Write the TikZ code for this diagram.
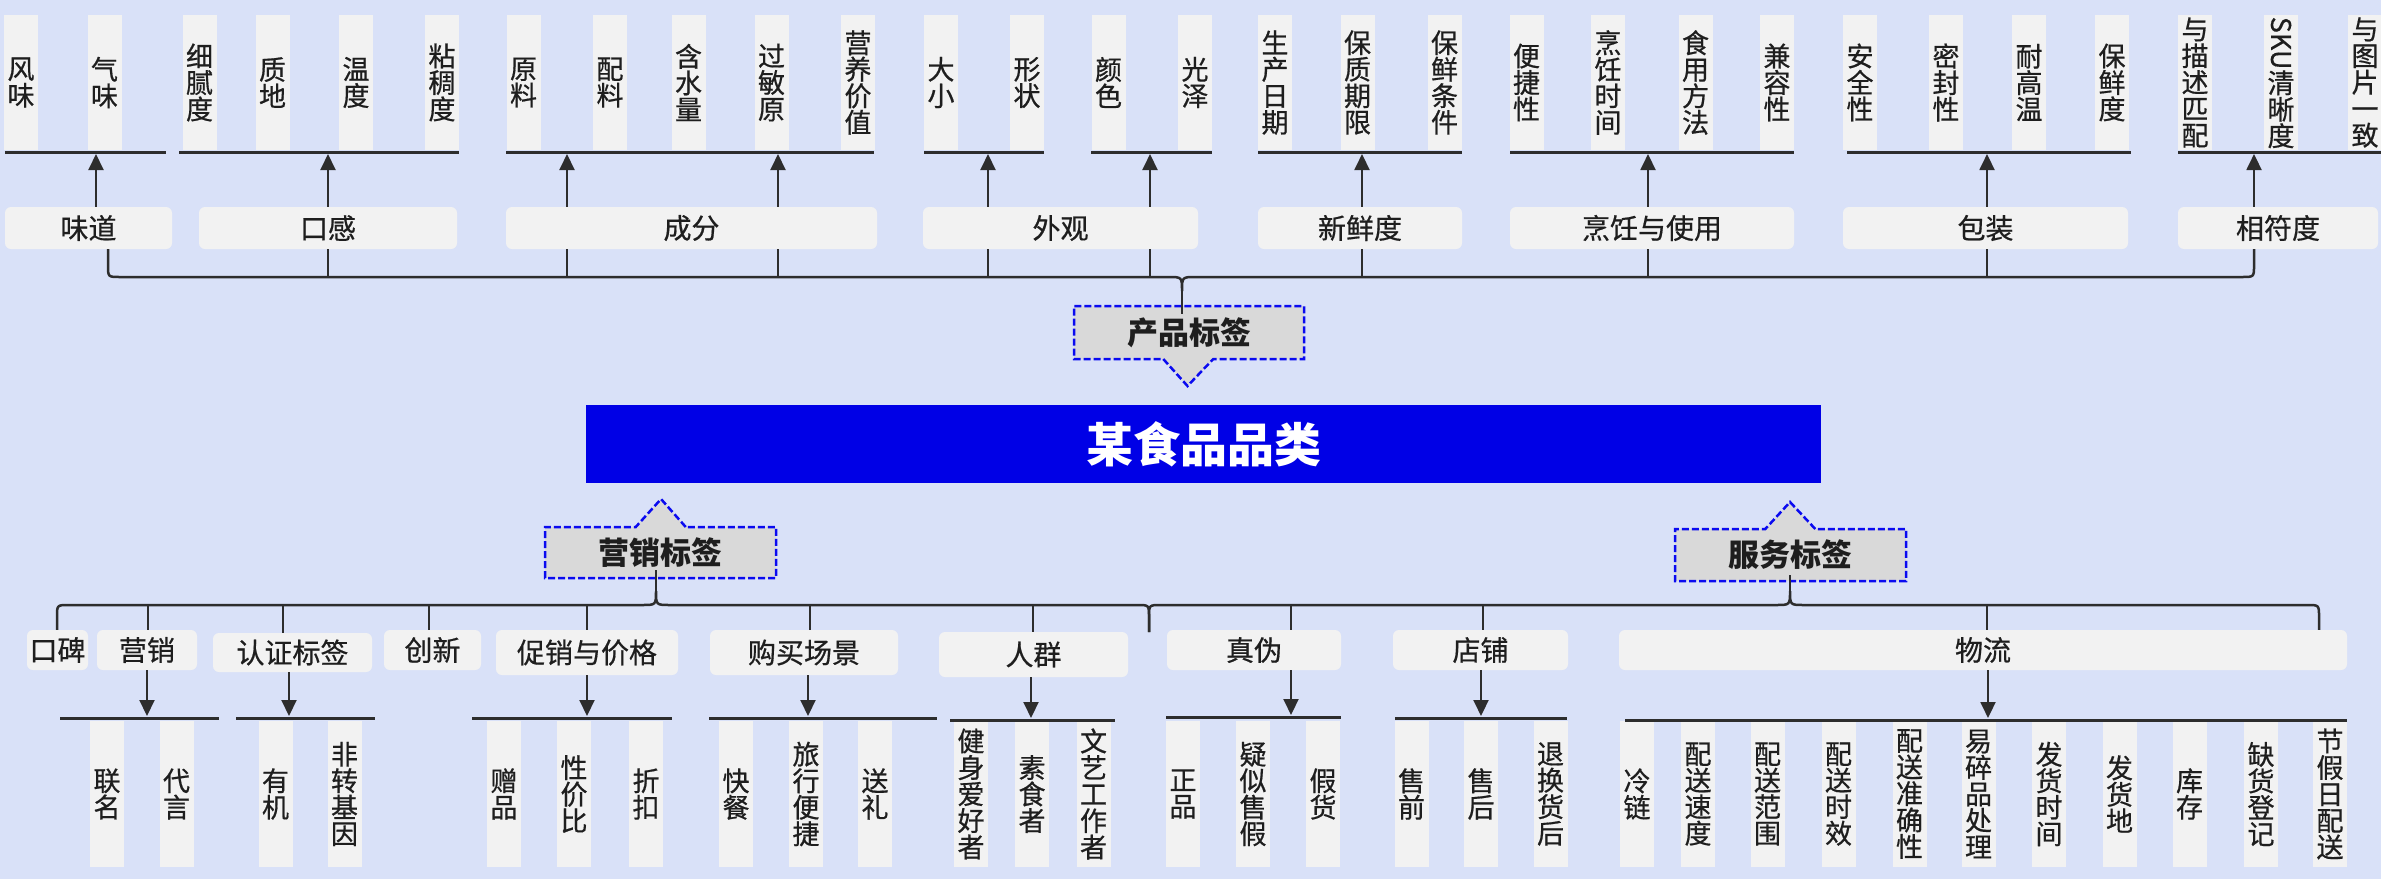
\documentclass[tikz,border=0pt]{standalone}
\usepackage{fontspec}
\setmainfont{Noto Sans CJK SC}
\newfontfamily\medfont{Noto Sans CJK SC}[FakeBold=0.6]
\usepackage{graphicx}
\usetikzlibrary{arrows.meta,shapes.callouts}
\definecolor{bg}{RGB}{217,225,248}
\definecolor{boxg}{RGB}{242,242,242}
\definecolor{calg}{RGB}{217,217,217}
\definecolor{tblue}{RGB}{0,0,230}
\definecolor{dblue}{RGB}{10,10,240}
\definecolor{ln}{RGB}{45,45,45}
\definecolor{txt}{RGB}{30,30,30}
\begin{document}
\begin{tikzpicture}[x=1pt,y=-1pt,
 leaf/.style={fill=boxg, inner sep=0pt, align=center, text=txt, font=\medfont\fontsize{27}{26.5}\selectfont, minimum width=34pt},
 tleaf/.style={leaf, minimum height=135pt},
 bleaf/.style={leaf, minimum height=146pt},
 cat/.style={fill=boxg, rounded corners=6pt, inner sep=0pt, text=txt, font=\medfont\fontsize{28}{30}\selectfont},
 hl/.style={draw=ln, line width=3pt},
 br/.style={draw=ln, line width=2.5pt},
 arr/.style={draw=ln, line width=2pt, -{Triangle[length=16pt,width=15pt]}},
 tag/.style={rectangle callout, fill=calg, draw=dblue, line width=2.5pt, dash pattern=on 7pt off 3pt, font=\fontsize{31}{32}\selectfont\bfseries, text=txt, inner sep=0pt, callout pointer width=50pt}
]
\useasboundingbox (0,0) rectangle (2381,879);
\fill[bg] (0,0) rectangle (2381,879);

% ---------- top leaves ----------
\foreach \n/\x/\t in {a1/21/风\\味, a2/104.5/气\\味, a3/199.5/细\\腻\\度, a4/272.5/质\\地, a5/356/温\\度, a6/442/粘\\稠\\度, a7/523.5/原\\料, a8/610/配\\料, a9/688.5/含\\水\\量, a10/771.5/过\\敏\\原, a11/858/营\\养\\价\\值, a12/941/大\\小, a13/1027/形\\状, a14/1108.5/颜\\色, a15/1195/光\\泽, a16/1275/生\\产\\日\\期, a17/1357.5/保\\质\\期\\限, a18/1444.5/保\\鲜\\条\\件, a19/1526.5/便\\捷\\性, a20/1608/烹\\饪\\时\\间, a21/1695.5/食\\用\\方\\法, a22/1777/兼\\容\\性, a23/1860/安\\全\\性, a24/1946/密\\封\\性, a25/2029/耐\\高\\温, a26/2112/保\\鲜\\度, a27/2195/与\\描\\述\\匹\\配, a29/2365/与\\图\\片\\一\\致}
  \node[tleaf] (\n) at (\x,82.5) {\t};
\node[tleaf] (a28) at (2281,82.5) {\rotatebox[origin=c]{-90}{SKU}\\清\\晰\\度};

% top leaf lines
\draw[hl] (5,152) -- (166,152);
\draw[hl] (179,152) -- (459,152);
\draw[hl] (506,152) -- (874,152);
\draw[hl] (924,152) -- (1044,152);
\draw[hl] (1091,152) -- (1212,152);
\draw[hl] (1258,152) -- (1462,152);
\draw[hl] (1510,152) -- (1794,152);
\draw[hl] (1847,152) -- (2131,152);
\draw[hl] (2178,152) -- (2381,152);

% ---------- top categories ----------
\node[cat, minimum width=167pt, minimum height=42pt] (wd) at (88.5,228) {味道};
\node[cat, minimum width=258pt, minimum height=42pt] (kg) at (328,228) {口感};
\node[cat, minimum width=371pt, minimum height=42pt] (cf) at (691.5,228) {成分};
\node[cat, minimum width=275pt, minimum height=42pt] (wg) at (1060.5,228) {外观};
\node[cat, minimum width=204pt, minimum height=42pt] (xx) at (1360,228) {新鲜度};
\node[cat, minimum width=284pt, minimum height=42pt] (pr) at (1652,228) {烹饪与使用};
\node[cat, minimum width=285pt, minimum height=42pt] (bz) at (1985.5,228) {包装};
\node[cat, minimum width=200pt, minimum height=42pt] (xf) at (2278,228) {相符度};

% top arrows
\draw[arr] (wd.north -| 96,0) -- (96,154);
\draw[arr] (kg.north -| 328,0) -- (328,154);
\draw[arr] (cf.north -| 567,0) -- (567,154);
\draw[arr] (cf.north -| 778,0) -- (778,154);
\draw[arr] (wg.north -| 988,0) -- (988,154);
\draw[arr] (wg.north -| 1150,0) -- (1150,154);
\draw[arr] (xx.north -| 1362,0) -- (1362,154);
\draw[arr] (pr.north -| 1648,0) -- (1648,154);
\draw[arr] (bz.north -| 1987,0) -- (1987,154);
\draw[arr] (xf.north -| 2254,0) -- (2254,154);

% top ticks
\draw[br] (kg.south -| 328,0) -- (328,277);
\draw[br] (cf.south -| 567,0) -- (567,277);
\draw[br] (cf.south -| 778,0) -- (778,277);
\draw[br] (wg.south -| 988,0) -- (988,277);
\draw[br] (wg.south -| 1150,0) -- (1150,277);
\draw[br] (xx.south -| 1362,0) -- (1362,277);
\draw[br] (pr.south -| 1648,0) -- (1648,277);
\draw[br] (bz.south -| 1987,0) -- (1987,277);

% ---------- title and tags ----------
\node[fill=tblue, minimum width=1235pt, minimum height=78pt, inner sep=0pt, text=white, font=\fontsize{47}{49}\selectfont\bfseries] (title) at (1203.5,444) {某食品品类};

\node[tag, minimum width=230pt, minimum height=53pt, callout absolute pointer={(1187.5,386)}] (pt) at (1189,332.5) {产品标签};
\node[tag, minimum width=231pt, minimum height=51pt, callout absolute pointer={(661,499)}] (yx) at (660.5,552.5) {营销标签};
\node[tag, minimum width=231pt, minimum height=52pt, callout absolute pointer={(1790,502)}] (fw) at (1790.5,555) {服务标签};

% top bracket
\draw[br] (wd.south -| 108,0) -- (108,265) .. controls (108,277) .. (120,277) -- (1168,277) .. controls (1182,277) .. (1182,291) .. controls (1182,277) .. (1196,277) -- (2242,277) .. controls (2254,277) .. (2254,265) -- (xf.south -| 2254,0);
\draw[br] (1182,291) -- (1182,314);

% ---------- bottom categories ----------
\node[cat, minimum width=61pt, minimum height=40pt] (kb) at (57.5,650) {口碑};
\node[cat, minimum width=100pt, minimum height=40pt] (mk) at (147,650) {营销};
\node[cat, minimum width=159pt, minimum height=39pt] (rz) at (292.5,652.5) {认证标签};
\node[cat, minimum width=97pt, minimum height=40pt] (cx) at (432.5,650) {创新};
\node[cat, minimum width=182pt, minimum height=45pt] (cj) at (587,652.5) {促销与价格};
\node[cat, minimum width=188pt, minimum height=45pt] (gm) at (804,652.5) {购买场景};
\node[cat, minimum width=189pt, minimum height=45pt] (rq) at (1033.5,654.5) {人群};
\node[cat, minimum width=174pt, minimum height=40pt] (zw) at (1254,650) {真伪};
\node[cat, minimum width=175pt, minimum height=40pt] (dp) at (1480.5,650) {店铺};
\node[cat, minimum width=728pt, minimum height=40pt] (wl) at (1983,650) {物流};

% bottom brackets
\draw[br] (kb.north -| 57,0) -- (57,617) .. controls (57,605) .. (69,605) -- (642,605) .. controls (656,605) .. (656,591) .. controls (656,605) .. (670,605) -- (1137,605) .. controls (1149,605) .. (1149,617) -- (1149,632);
\draw[br] (656,591) -- (656,570);
\draw[br] (1149,632) -- (1149,617) .. controls (1149,605) .. (1161,605) -- (1776,605) .. controls (1790,605) .. (1790,591) .. controls (1790,605) .. (1804,605) -- (2307,605) .. controls (2319,605) .. (2319,617) -- (wl.north -| 2319,0);
\draw[br] (1790,591) -- (1790,575);

% bottom ticks
\draw[br] (148,605) -- (mk.north -| 148,0);
\draw[br] (283,605) -- (rz.north -| 283,0);
\draw[br] (429,605) -- (cx.north -| 429,0);
\draw[br] (587,605) -- (cj.north -| 587,0);
\draw[br] (810,605) -- (gm.north -| 810,0);
\draw[br] (1033,605) -- (rq.north -| 1033,0);
\draw[br] (1291,605) -- (zw.north -| 1291,0);
\draw[br] (1483,605) -- (dp.north -| 1483,0);
\draw[br] (1987,605) -- (wl.north -| 1987,0);

% bottom leaves
\foreach \n/\x/\t in {b1/107/联\\名, b2/176.5/代\\言, b3/275.5/有\\机, b4/344.5/非\\转\\基\\因, b5/504/赠\\品, b6/574/性\\价\\比, b7/646/折\\扣, b8/736/快\\餐, b9/806/旅\\行\\便\\捷, b10/875/送\\礼, b11/971/健\\身\\爱\\好\\者, b12/1032/素\\食\\者, b13/1093.5/文\\艺\\工\\作\\者, b14/1183/正\\品, b15/1253/疑\\似\\售\\假, b16/1323/假\\货, b17/1411.5/售\\前, b18/1481/售\\后, b19/1550.5/退\\换\\货\\后, b20/1637/冷\\链, b21/1698/配\\送\\速\\度, b22/1767.5/配\\送\\范\\围, b23/1838.5/配\\送\\时\\效, b24/1909.5/配\\送\\准\\确\\性, b25/1978.5/易\\碎\\品\\处\\理, b26/2049/发\\货\\时\\间, b27/2119.5/发\\货\\地, b28/2189.5/库\\存, b29/2261/缺\\货\\登\\记, b30/2330/节\\假\\日\\配\\送}
  \node[bleaf] (\n) at (\x,794) {\t};

% bottom leaf lines
\draw[hl] (60,718) -- (219,718);
\draw[hl] (236,718) -- (375,718);
\draw[hl] (472,718) -- (672,718);
\draw[hl] (709,718) -- (937,718);
\draw[hl] (950,720) -- (1115,720);
\draw[hl] (1166,717) -- (1341,717);
\draw[hl] (1395,718) -- (1567,718);
\draw[hl] (1625,720) -- (2347,720);

% bottom arrows
\draw[arr] (mk.south -| 147,0) -- (147,716);
\draw[arr] (rz.south -| 289,0) -- (289,716);
\draw[arr] (cj.south -| 587,0) -- (587,716);
\draw[arr] (gm.south -| 808,0) -- (808,716);
\draw[arr] (rq.south -| 1031,0) -- (1031,718);
\draw[arr] (zw.south -| 1291,0) -- (1291,715);
\draw[arr] (dp.south -| 1481,0) -- (1481,716);
\draw[arr] (wl.south -| 1988,0) -- (1988,718);
\end{tikzpicture}
\end{document}
